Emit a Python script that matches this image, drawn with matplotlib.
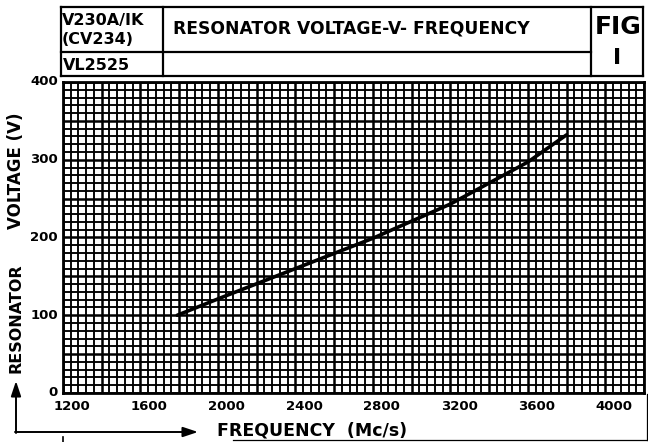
import matplotlib
matplotlib.use("Agg")
import matplotlib.pyplot as plt
from matplotlib.ticker import MultipleLocator
from matplotlib.lines import Line2D
from matplotlib.patches import FancyArrowPatch
import matplotlib.transforms as mtransforms

# ---- data ----
frequency = [1790, 2000, 2400, 2800, 3200, 3600, 3800]   # Mc/s
voltage = [100, 121, 160, 199, 243, 297, 332]            # V
x_ticks = [1200, 1600, 2000, 2400, 2800, 3200, 3600, 4000]
y_ticks = [0, 100, 200, 300, 400]
title = "RESONATOR VOLTAGE-V- FREQUENCY"
valve_lines = ["V230A/IK", "(CV234)"]
valve2 = "VL2525"
fig_label = ["FIG", "I"]

W, H = 648, 442
fig = plt.figure(figsize=(W / 100, H / 100), dpi=100)
fig.patch.set_facecolor("white")

def fx(x):
    return x / W

def fy(y):
    return 1 - y / H

FONT = "DejaVu Sans"

# main grid axes
L, R, T, B = 63, 644, 82, 393
ax = fig.add_axes([fx(L), fy(B), (R - L) / W, (B - T) / H])
ax.set_xlim(1200, 4200)
ax.set_ylim(0, 400)

ax.xaxis.set_minor_locator(MultipleLocator(40))
ax.yaxis.set_minor_locator(MultipleLocator(10))
ax.xaxis.set_major_locator(MultipleLocator(200))
ax.yaxis.set_major_locator(MultipleLocator(50))
ax.grid(True, which="minor", color="black", linewidth=1.35)
ax.grid(True, which="major", color="black", linewidth=1.8)
ax.set_axisbelow(True)
for s in ax.spines.values():
    s.set_linewidth(2.0)
ax.tick_params(which="both", length=0, labelbottom=False, labelleft=False)

ax.plot(frequency, voltage, color="black", linewidth=2.6, solid_capstyle="round", zorder=5)

# tick labels
for v in x_ticks:
    t = mtransforms.offset_copy(ax.get_xaxis_transform(), fig=fig, x=9, y=-13, units="dots")
    ax.text(v, 0, str(v), transform=t, ha="center", va="center",
            fontsize=9.5, fontweight="bold", family=FONT)
for v in y_ticks:
    t = mtransforms.offset_copy(ax.get_yaxis_transform(), fig=fig, x=-5, y=0, units="dots")
    ax.text(0, v, str(v), transform=t, ha="right", va="center",
            fontsize=9.5, fontweight="bold", family=FONT)

# axis titles
fig.text(fx(312), fy(430), "FREQUENCY  (Mc/s)", ha="center", va="center",
         fontsize=12.5, fontweight="bold", family=FONT)
fig.text(fx(16), fy(318), "RESONATOR", rotation=90, ha="center", va="center",
         fontsize=11.5, fontweight="bold", family=FONT)
fig.text(fx(16), fy(171), "VOLTAGE (V)", rotation=90, ha="center", va="center",
         fontsize=12, fontweight="bold", family=FONT)

# arrows
ap = dict(arrowstyle="-|>,head_length=0.9,head_width=0.3", color="black", lw=1.4,
          mutation_scale=10, transform=fig.transFigure, shrinkA=0, shrinkB=0)
fig.add_artist(FancyArrowPatch((fx(16), fy(433)), (fx(16), fy(381)), **ap))
fig.add_artist(FancyArrowPatch((fx(15), fy(432)), (fx(198), fy(432)), **ap))
fig.add_artist(Line2D([fx(63), fx(63)], [fy(437), fy(442)], color="black", linewidth=1.2))

# page frame remnants
fig.add_artist(Line2D([fx(233), fx(647)], [fy(440), fy(440)], color="black", linewidth=0.9))
fig.add_artist(Line2D([fx(647), fx(647)], [fy(394), fy(440)], color="black", linewidth=0.9))

# header table
hl, hr, ht, hb = 61, 643, 7, 76
lw = 1.6
def hline(x0, x1, y):
    fig.add_artist(Line2D([fx(x0), fx(x1)], [fy(y), fy(y)], color="black", linewidth=lw))
def vline(x, y0, y1):
    fig.add_artist(Line2D([fx(x), fx(x)], [fy(y0), fy(y1)], color="black", linewidth=lw))
hline(hl, hr, ht)
hline(hl, hr, hb)
hline(hl, 591, 52)
vline(hl, ht, hb)
vline(hr, ht, hb)
vline(163, ht, hb)
vline(591, ht, hb)

fig.text(fx(62), fy(20), valve_lines[0], ha="left", va="center", fontsize=11.5,
         fontweight="bold", family=FONT)
fig.text(fx(62), fy(40), valve_lines[1], ha="left", va="center", fontsize=11.5,
         fontweight="bold", family=FONT)
fig.text(fx(63), fy(65), valve2, ha="left", va="center", fontsize=11.5,
         fontweight="bold", family=FONT)
fig.text(fx(173), fy(28), title, ha="left", va="center", fontsize=12.3,
         fontweight="bold", family=FONT)
fig.text(fx(618), fy(27), fig_label[0], ha="center", va="center", fontsize=18,
         fontweight="bold", family=FONT)
fig.text(fx(617), fy(58), fig_label[1], ha="center", va="center", fontsize=16,
         fontweight="bold", family=FONT)

fig.savefig("out.png", dpi=100, facecolor="white")
